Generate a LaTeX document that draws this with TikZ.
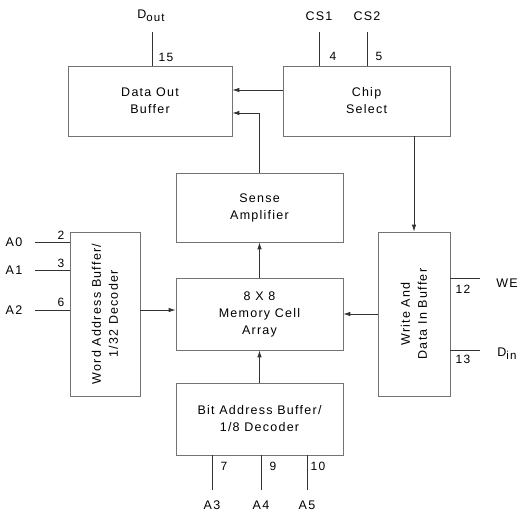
\documentclass[tikz,border=0pt]{standalone}
\usepackage{fontspec}
\setmainfont{Liberation Sans}[LetterSpace=10]
\usetikzlibrary{arrows.meta,calc}
\tikzset{
  blk/.style={draw=black!55, line width=0.7pt, inner sep=0pt, align=center, font=\fontsize{12.5}{17}\selectfont},
  rtxt/.style={rotate=90, align=center, inner sep=0pt, font=\fontsize{12.5}{17}\selectfont},
  lbl/.style={inner sep=0pt, font=\fontsize{12.5}{14}\selectfont},
  num/.style={inner sep=0pt, font=\fontsize{12}{13}\selectfont},
  wire/.style={draw=black!80, line width=0.8pt},
  arr/.style={wire, -{Latex[length=7pt,width=4.5pt]}},
}
\begin{document}
\begin{tikzpicture}[x=1pt,y=-1pt]
\useasboundingbox (0,0) rectangle (523,516);
% blocks
\node[blk, minimum width=164pt, minimum height=70pt] (dob) at (150,101) {Data Out\\Buffer};
\node[blk, minimum width=167pt, minimum height=70pt] (cs) at (366.5,101) {Chip\\Select};
\node[blk, minimum width=167pt, minimum height=69pt] (sa) at (259.5,207.5) {Sense\\Amplifier};
\node[blk, minimum width=167pt, minimum height=72pt] (mem) at (259.5,314) {8 X 8\\Memory Cell\\Array};
\node[blk, minimum width=167pt, minimum height=72pt] (bit) at (259.5,419) {Bit Address Buffer/\\1/8 Decoder};
\node[blk, minimum width=70pt, minimum height=164pt] (word) at (105,314) {};
\node[rtxt] (wordt) at (word.center) {Word Address Buffer/\\1/32 Decoder};
\node[blk, minimum width=72pt, minimum height=164pt] (wr) at (414,314) {};
\node[rtxt] (wrt) at (wr.center) {Write And\\Data In Buffer};
% helper rows
\coordinate (r1) at (0,90);
\coordinate (r2) at (0,113);
\coordinate (r3) at (0,310);
% internal connectors
\draw[arr] (cs.west |- r1) -- (dob.east |- r1);
\draw[arr] (sa.north) |- (dob.east |- r2);
\draw[arr] (cs.south -| wr.north) -- (wr.north);
\draw[arr] (mem.north) -- (sa.south);
\draw[arr] (bit.north) -- (mem.south);
\draw[arr] (word.east |- r3) -- (mem.west |- r3);
\draw[arr] (wr.west) -- (mem.east);
% top pins
\node[lbl] (dout) at (151,16) {D\raisebox{-0.5ex}{\fontsize{11.5}{13}\selectfont out}};
\node[lbl] (cs1) at (319,16) {CS1};
\node[lbl] (cs2) at (367,16) {CS2};
\coordinate (p15) at (152,32);
\coordinate (p4) at (319,32);
\coordinate (p5) at (367,32);
\draw[wire] (p15) -- (dob.north -| p15);
\draw[wire] (p4) -- (cs.north -| p4);
\draw[wire] (p5) -- (cs.north -| p5);
\node[num] (n15) at (166,57) {15};
\node[num] (n4) at (333,56) {4};
\node[num] (n5) at (379,56) {5};
% left pins
\node[lbl] (a0) at (14,242) {A0};
\node[lbl] (a1) at (14,270) {A1};
\node[lbl] (a2) at (14,310) {A2};
\coordinate (a0e) at (35,242);
\coordinate (a1e) at (35,270);
\coordinate (a2e) at (35,310);
\draw[wire] (a0e) -- (word.west |- a0e);
\draw[wire] (a1e) -- (word.west |- a1e);
\draw[wire] (a2e) -- (word.west |- a2e);
\node[num] (n2) at (61,235) {2};
\node[num] (n3) at (61,263) {3};
\node[num] (n6) at (61,302) {6};
% right pins
\coordinate (we) at (480,278);
\coordinate (din) at (480,350);
\draw[wire] (wr.east |- we) -- (we);
\draw[wire] (wr.east |- din) -- (din);
\node[lbl] (wel) at (507,283) {WE};
\node[lbl] (dinl) at (507,354) {D\raisebox{-0.5ex}{\fontsize{11.5}{13}\selectfont in}};
\node[num] (n12) at (463,289) {12};
\node[num] (n13) at (463,359) {13};
% bottom pins
\coordinate (b7) at (212,490);
\coordinate (b9) at (261,490);
\coordinate (b10) at (307,490);
\draw[wire] (bit.south -| b7) -- (b7);
\draw[wire] (bit.south -| b9) -- (b9);
\draw[wire] (bit.south -| b10) -- (b10);
\node[num] (n7) at (224,466) {7};
\node[num] (n9) at (273,466) {9};
\node[num] (n10) at (318,466) {10};
\node[lbl] (a3) at (212,505) {A3};
\node[lbl] (a4) at (261,505) {A4};
\node[lbl] (a5) at (307,505) {A5};
\end{tikzpicture}
\end{document}
